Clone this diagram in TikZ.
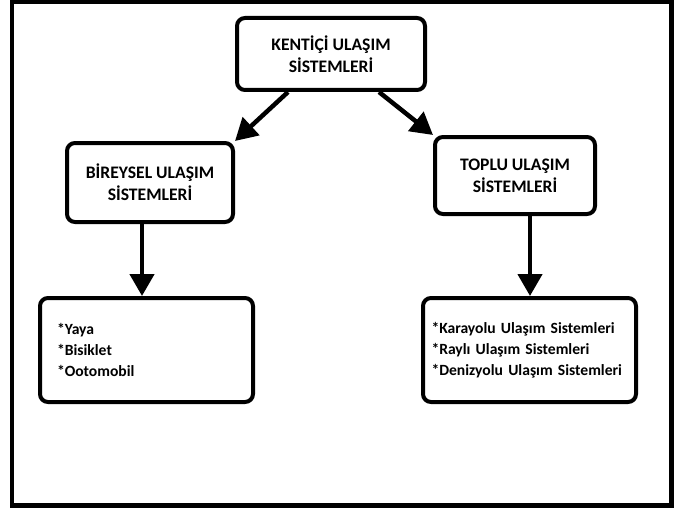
\documentclass[tikz,border=0pt]{standalone}
\usepackage{fontspec}
\setmainfont{Carlito}
\usetikzlibrary{arrows.meta,calc}
\tikzset{
  kutu/.style={draw, line width=4pt, rounded corners=8pt, inner sep=0pt, align=center,
    font=\bfseries\fontsize{17.6}{22}\selectfont},
  liste/.style={kutu, align=left, font=\bfseries\fontsize{15.6}{21}\selectfont},
  ok/.style={line width=4.5pt, -{Triangle[width=24pt,length=22pt]}}
}

\begin{document}
\begin{tikzpicture}[x=1pt,y=-1pt]
		%%%%% START %%%%%
		\useasboundingbox (0,0) rectangle (674,508);
		\draw[line width=4.5pt] (12,2) rectangle (671.5,505.5);
		
		\node[kutu, minimum width=188pt, minimum height=72pt] (kentici) at (331,54) {KENTİÇİ ULAŞIM\\SİSTEMLERİ};
		\node[kutu, minimum width=166pt, minimum height=79pt] (bireysel) at (150,182.5) {BİREYSEL ULAŞIM\\SİSTEMLERİ};
		\node[kutu, minimum width=160pt, minimum height=77pt] (toplu) at (515,175.5) {TOPLU ULAŞIM\\SİSTEMLERİ};
		
		\node[liste, text width=179pt, minimum height=104pt, inner xsep=17pt] (bireyselListe) at (146.5,350) {*Yaya\\{}*Bisiklet\\{}*Ootomobil};
		\node[liste, text width=196pt, minimum height=104pt, inner xsep=8.5pt] (topluListe) at (529.5,350) {*Karayolu Ulaşım Sistemleri\\{}*Raylı Ulaşım Sistemleri\\{}*Denizyolu Ulaşım Sistemleri};
		
		\draw[ok] ([xshift=53pt]kentici.south west) -- (bireysel.north east);
		\draw[ok] ([xshift=-48pt]kentici.south east) -- (toplu.north west);
		\draw[ok] ([xshift=-8pt]bireysel.south) -- ([xshift=-4.5pt]bireyselListe.north);
		\draw[ok] ([xshift=15pt]toplu.south) -- ([xshift=0.5pt]topluListe.north);
		%%%%% END %%%%%
\end{tikzpicture}
\end{document}
